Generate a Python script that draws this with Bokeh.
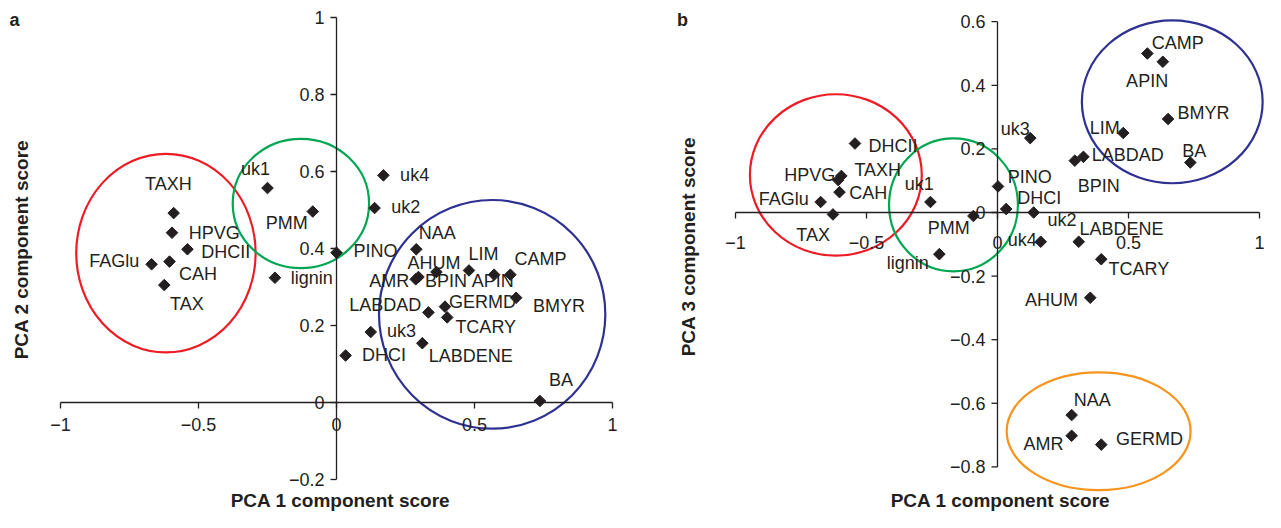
import numpy as np
from bokeh.plotting import figure
from bokeh.layouts import row
from bokeh.models import Range1d
from bokeh.core.properties import value
from bokeh.embed import file_html
from bokeh.resources import INLINE

# ---------------- data ----------------
names = ["TAXH", "HPVG", "DHCII", "CAH", "FAGlu", "TAX", "uk1", "PMM", "lignin",
         "PINO", "uk4", "uk2", "NAA", "AHUM", "AMR", "BPIN", "LIM", "APIN", "CAMP",
         "BMYR", "GERMD", "TCARY", "LABDAD", "uk3", "LABDENE", "DHCI", "BA"]

# panel a: PCA 1 vs PCA 2
a_pc1 = [-0.590, -0.596, -0.540, -0.605, -0.670, -0.624, -0.250, -0.086, -0.223,
         0.000, 0.170, 0.138, 0.289, 0.362, 0.287, 0.297, 0.480, 0.571, 0.630,
         0.651, 0.393, 0.401, 0.333, 0.124, 0.311, 0.033, 0.737]
a_pc2 = [0.492, 0.441, 0.398, 0.366, 0.359, 0.305, 0.557, 0.496, 0.324,
         0.389, 0.590, 0.505, 0.398, 0.339, 0.320, 0.326, 0.343, 0.332, 0.332,
         0.272, 0.249, 0.221, 0.234, 0.183, 0.154, 0.122, 0.004]

# panel b: PCA 1 vs PCA 3
b_pc1 = [-0.596, -0.608, -0.544, -0.603, -0.675, -0.628, -0.256, -0.092, -0.222,
         0.002, 0.165, 0.138, 0.283, 0.354, 0.283, 0.295, 0.480, 0.631, 0.572,
         0.651, 0.396, 0.396, 0.328, 0.125, 0.310, 0.033, 0.736]
b_pc3 = [0.115, 0.102, 0.217, 0.064, 0.033, -0.006, 0.033, -0.011, -0.131,
         0.082, -0.092, 0.000, -0.637, -0.268, -0.702, 0.163, 0.250, 0.474, 0.500,
         0.294, -0.730, -0.147, 0.175, 0.234, -0.092, 0.011, 0.157]

# group ellipses: centre x, centre y, width, height (data units)
a_ell_x = [-0.618, -0.129, 0.564]
a_ell_y = [0.388, 0.517, 0.229]
a_ell_w = [0.650, 0.494, 0.820]
a_ell_h = [0.516, 0.336, 0.594]
a_ell_c = ["#ED1C24", "#00A651", "#2E3192"]

b_ell_x = [-0.617, -0.168, 0.667, 0.386]
b_ell_y = [0.118, 0.024, 0.348, -0.688]
b_ell_w = [0.656, 0.492, 0.690, 0.702]
b_ell_h = [0.508, 0.418, 0.512, 0.370]
b_ell_c = ["#ED1C24", "#00A651", "#2E3192", "#F7941D"]

x_ticks = [-1, -0.5, 0, 0.5, 1]
x_tick_labels = ["\u22121", "\u22120.5", "0", "0.5", "1"]
a_y_ticks = [1, 0.8, 0.6, 0.4, 0.2, 0, -0.2]
a_y_tick_labels = ["1", "0.8", "0.6", "0.4", "0.2", "0", "\u22120.2"]
b_y_ticks = [0.6, 0.4, 0.2, 0, -0.2, -0.4, -0.6, -0.8]
b_y_tick_labels = ["0.6", "0.4", "0.2", "0", "\u22120.2", "\u22120.4", "\u22120.6", "\u22120.8"]

# label placement (pixel offsets of label left edge / vertical centre from point)
a_dx = [-28.6, 16.7, 13.9, 9.4, -62.4, 5.7, -26.5, -46.9, 15.9, 17.1, 16.7, 16.7, 2.4,
        -29.0, -46.5, 6.5, -0.4, -22.4, 4.1, 16.7, 4.1, 8.2, -79.2, 16.3, 6.5, 16.3, 9.0]
a_dy = [-29.2, 0.0, 2.7, 12.4, -3.0, 18.8, -19.1, 11.7, 0.0, -1.7, 0.0, -1.3, -15.8,
        -9.4, 1.7, 4.0, -16.8, 6.7, -15.8, 8.1, -4.4, 9.7, -7.7, -0.7, 12.4, -0.7, -20.8]
b_dx = [13.1, -53.9, 13.5, 9.8, -62.0, -36.7, -25.7, -45.7, -52.7, 9.8, -33.1, 13.9, 2.0,
        -65.3, -48.2, 2.9, -33.5, -36.7, 4.5, 9.4, 14.7, 7.3, 8.2, -29.4, 0.8, 11.0, -8.2]
b_dy = [-5.7, -5.0, 2.3, 1.0, -2.7, 20.5, -18.5, 12.4, 8.7, -9.7, -1.3, 7.0, -15.1,
        2.0, 8.4, 25.8, -4.7, 18.8, -10.1, -6.0, -6.0, 10.1, -2.0, -9.4, -13.1, -11.1, -11.4]

FONT = value("Liberation Sans")
INK = "#231f20"


def panel(tag, xs, ys, dxs, dys, ex, ey, ew, eh, ec, yticks, ylabels, yname,
          X0, KX, Y0, KY, CL, W, xlab_off, tag_pos, ytitle_pos, xtitle_pos):
    CT, H = 0, 512
    xr = ((CL - X0) / KX, (CL + W - X0) / KX)
    yr = ((Y0 - (CT + H)) / KY, (Y0 - CT) / KY)

    def dx(px):
        return px / KX

    def dy(py):
        return py / KY

    def pg(px, py):
        return (px - X0) / KX, (Y0 - py) / KY

    p = figure(width=W, height=H, x_range=Range1d(*xr), y_range=Range1d(*yr),
               output_backend="svg", toolbar_location=None, min_border=0,
               x_axis_type=None, y_axis_type=None)
    p.grid.visible = False
    p.outline_line_color = None
    p.background_fill_color = "white"

    p.ellipse(x=ex, y=ey, width=ew, height=eh, fill_alpha=0,
              line_color=ec, line_width=2.2)

    # axes crossing at the origin
    p.segment(x0=[min(x_ticks), 0], y0=[0, min(yticks)],
              x1=[max(x_ticks), 0], y1=[0, max(yticks)],
              line_color=INK, line_width=1.3)
    p.ray(x=x_ticks, y=[0] * len(x_ticks), length=6, length_units="screen",
          angle=-np.pi / 2, line_color=INK, line_width=1.3)
    p.ray(x=[0] * len(yticks), y=yticks, length=6, length_units="screen",
          angle=np.pi, line_color=INK, line_width=1.3)
    p.text(x=x_ticks, y=[-dy(xlab_off)] * len(x_ticks), text=x_tick_labels,
           text_align="center", text_baseline="middle", text_font=FONT,
           text_font_size="18px", text_color=INK)
    p.text(x=[-dx(12)] * len(yticks), y=yticks, text=ylabels,
           text_align="right", text_baseline="middle", text_font=FONT,
           text_font_size="18px", text_color=INK)

    # points
    p.scatter(x=xs, y=ys, marker="square", angle=np.pi / 4, size=8.2,
              color=INK, line_color=INK)
    lx = [x + dx(d) for x, d in zip(xs, dxs)]
    ly = [y - dy(d) for y, d in zip(ys, dys)]
    p.text(x=lx, y=ly, text=names, text_align="left", text_baseline="middle",
           text_font=FONT, text_font_size="18px", text_color=INK)

    # titles
    tx, ty = pg(*tag_pos)
    p.text(x=[tx], y=[ty], text=[tag], text_align="center", text_baseline="middle",
           text_font=FONT, text_font_size="18px", text_font_style="bold", text_color=INK)
    lx0, ly0 = pg(*ytitle_pos)
    p.text(x=[lx0], y=[ly0], text=[yname], angle=np.pi / 2, text_align="center",
           text_baseline="middle", text_font=FONT, text_font_size="19px",
           text_font_style="bold", text_color=INK)
    bx0, by0 = pg(*xtitle_pos)
    p.text(x=[bx0], y=[by0], text=["PCA 1 component score"], text_align="center",
           text_baseline="middle", text_font=FONT, text_font_size="19px",
           text_font_style="bold", text_color=INK)
    return p


pa = panel("a", a_pc1, a_pc2, a_dx, a_dy, a_ell_x, a_ell_y, a_ell_w, a_ell_h, a_ell_c,
           a_y_ticks, a_y_tick_labels, "PCA 2 component score",
           X0=336, KX=276, Y0=402, KY=385, CL=0, W=632, xlab_off=21.5,
           tag_pos=(14, 19), ytitle_pos=(21, 249), xtitle_pos=(340, 500))
pb = panel("b", b_pc1, b_pc3, b_dx, b_dy, b_ell_x, b_ell_y, b_ell_w, b_ell_h, b_ell_c,
           b_y_ticks, b_y_tick_labels, "PCA 3 component score",
           X0=997, KX=262, Y0=212, KY=318, CL=632, W=633, xlab_off=30,
           tag_pos=(682, 19), ytitle_pos=(688, 246), xtitle_pos=(1000, 500))

layout = row(pa, pb, spacing=0)
open("out.html", "w").write(file_html(layout, INLINE))
